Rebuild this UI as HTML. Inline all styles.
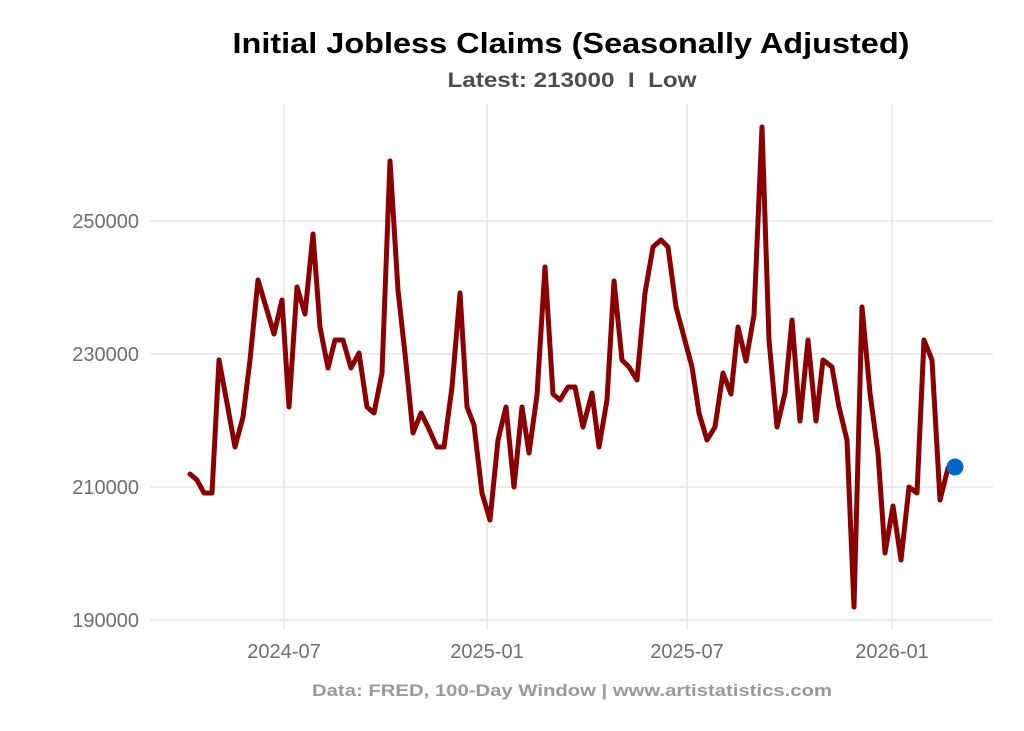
<!DOCTYPE html>
<html><head><meta charset="utf-8"><style>html,body{margin:0;padding:0;background:#fff}svg{display:block}</style></head>
<body>
<svg width="1024" height="731" xmlns="http://www.w3.org/2000/svg" font-family="Liberation Sans, sans-serif">
<rect width="1024" height="731" fill="#fff"/>
<g stroke="#e5e5e5" stroke-width="1.5">
<line x1="150" y1="221" x2="993" y2="221"/>
<line x1="150" y1="354" x2="993" y2="354"/>
<line x1="150" y1="487" x2="993" y2="487"/>
<line x1="150" y1="620" x2="993" y2="620"/>
<line x1="284" y1="104" x2="284" y2="630"/>
<line x1="487" y1="104" x2="487" y2="630"/>
<line x1="687" y1="104" x2="687" y2="630"/>
<line x1="892" y1="104" x2="892" y2="630"/>
</g>
<g fill="#6e6e6e" font-size="20" text-anchor="end">
<text x="139" y="228">250000</text>
<text x="139" y="361">230000</text>
<text x="139" y="494">210000</text>
<text x="139" y="627">190000</text>
</g>
<g fill="#6e6e6e" font-size="20" text-anchor="middle">
<text x="284" y="658">2024-07</text>
<text x="487" y="658">2025-01</text>
<text x="687" y="658">2025-07</text>
<text x="892" y="658">2026-01</text>
</g>
<polyline fill="none" stroke="#8b0000" stroke-width="5" stroke-linejoin="round" stroke-linecap="round" points="190,474 197,480 204,493 212,493 219,360 227,403 235,447 243,417 250,360 258,280 266,307 274,334 282,300 289,407 297,287 305,314 313,234 320,327 328,368 335,340 343,340 351,368 359,353 367,407 374,413 382,373 390,161 398,290 406,363 413,433 421,413 428,427 437,447 444,447 452,387 460,293 467,407 474,425 482,493 490,520 498,440 506,407 514,487 522,407 529,453 537,395 545,267 553,394 560,400 568,387 575,387 583,427 592,393 599,447 607,400 614,281 622,360 629,367 637,380 645,293 653,247 661,240 668,247 676,307 684,337 692,367 699,413 707,440 715,427 723,373 731,394 738,327 746,361 754,315 762,127 769,340 777,427 785,393 792,320 800,421 808,340 816,421 823,360 832,367 839,407 847,440 854,607 862,307 870,393 878,453 885,553 893,506 901,560 909,487 917,493 924,340 932,360 940,500 948,468 955,467"/>
<circle cx="955" cy="467" r="8.5" fill="#0066cc"/>
<text x="571" y="53" font-size="29" font-weight="bold" text-anchor="middle" textLength="677" lengthAdjust="spacingAndGlyphs" fill="#000">Initial Jobless Claims (Seasonally Adjusted)</text>
<text x="572" y="87" font-size="21" font-weight="bold" text-anchor="middle" textLength="249" lengthAdjust="spacingAndGlyphs" fill="#4d4d4d">Latest: 213000&#160;&#160;I&#160;&#160;Low</text>
<text x="572" y="696" font-size="17" font-weight="bold" text-anchor="middle" textLength="520" lengthAdjust="spacingAndGlyphs" fill="#999">Data: FRED, 100-Day Window | www.artistatistics.com</text>
</svg>
</body></html>
